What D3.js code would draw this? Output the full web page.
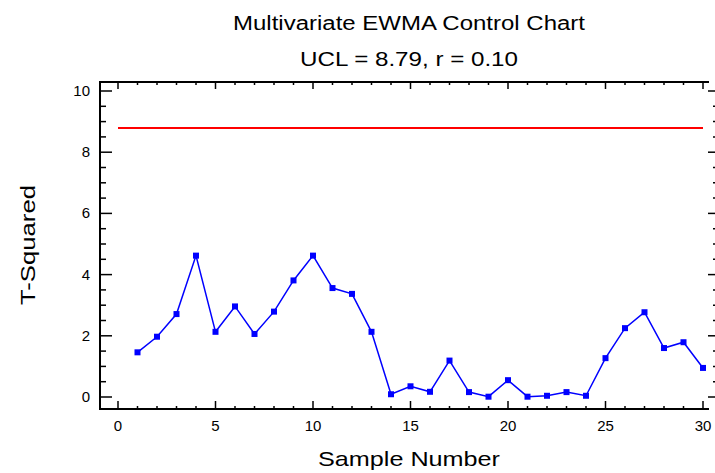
<!DOCTYPE html>
<html>
<head>
<meta charset="utf-8">
<script src="https://cdn.jsdelivr.net/npm/d3@7"></script>
<style>
  body { margin: 0; background: #fff; }
  svg { display: block; font-family: "Liberation Sans", Arial, sans-serif; }
</style>
</head>
<body>
<div id="chart"></div>
<script>
// chart data
var samples = d3.range(1, 31);
var tSquared = [1.46, 1.97, 2.71, 4.62, 2.13, 2.96, 2.06, 2.79, 3.81, 4.62,
                3.56, 3.37, 2.13, 0.09, 0.35, 0.17, 1.19, 0.16, 0.01, 0.55,
                0.01, 0.04, 0.16, 0.04, 1.27, 2.25, 2.77, 1.60, 1.79, 0.95];
var ucl = 8.79;
var xTicks = [0, 5, 10, 15, 20, 25, 30];
var yTicks = [0, 2, 4, 6, 8, 10];

var width = 715, height = 473;
var frame = {left: 100, right: 709, top: 82, bottom: 409};

var svg = d3.select('#chart').append('svg')
  .attr('width', width)
  .attr('height', height);

var x = d3.scaleLinear().domain([0, 30]).range([118, 703]);
var y = d3.scaleLinear().domain([0, 10]).range([397, 91]);

// frame lines (left, bottom, top)
svg.append('path')
  .attr('d', 'M' + frame.right + ',' + frame.top + 'H' + frame.left + 'V' + frame.bottom + 'H' + frame.right)
  .attr('fill', 'none')
  .attr('stroke', '#000')
  .attr('stroke-width', 2);

function tickLines(g, vals, fn) {
  g.selectAll('line').data(vals).enter().append('line')
    .each(fn)
    .attr('stroke', '#000')
    .attr('stroke-width', 1.5);
}

// bottom ticks
var minorX = d3.range(0, 31);
tickLines(svg.append('g'), minorX, function(d) {
  var len = d % 5 === 0 ? 8 : 3;
  d3.select(this).attr('x1', x(d)).attr('x2', x(d)).attr('y1', frame.bottom).attr('y2', frame.bottom - len);
});
// top ticks
tickLines(svg.append('g'), minorX, function(d) {
  var len = d % 5 === 0 ? 7 : 3;
  d3.select(this).attr('x1', x(d)).attr('x2', x(d)).attr('y1', frame.top).attr('y2', frame.top + len);
});
// left ticks
var minorY = d3.range(0, 10.01, 0.5);
tickLines(svg.append('g'), minorY, function(d) {
  var len = d % 2 === 0 ? 12 : 6;
  d3.select(this).attr('x1', frame.left).attr('x2', frame.left + len).attr('y1', y(d)).attr('y2', y(d));
});
// right ticks
tickLines(svg.append('g'), minorY, function(d) {
  var len = d % 2 === 0 ? 7 : 2;
  d3.select(this).attr('x1', 715 - len).attr('x2', 715).attr('y1', y(d)).attr('y2', y(d));
});

// tick labels
svg.append('g').selectAll('text').data(xTicks).enter().append('text')
  .attr('x', function(d) { return x(d); })
  .attr('y', 431)
  .attr('text-anchor', 'middle')
  .attr('font-size', 15)
  .text(function(d) { return d; });

svg.append('g').selectAll('text').data(yTicks).enter().append('text')
  .attr('x', 90)
  .attr('y', function(d) { return y(d) + 5; })
  .attr('text-anchor', 'end')
  .attr('font-size', 15)
  .text(function(d) { return d; });

// UCL line
svg.append('line')
  .attr('x1', x(0)).attr('x2', x(30))
  .attr('y1', y(ucl)).attr('y2', y(ucl))
  .attr('stroke', '#ff0000')
  .attr('stroke-width', 2);

// data line
var line = d3.line()
  .x(function(d, i) { return x(samples[i]); })
  .y(function(d) { return y(d); });

svg.append('path')
  .datum(tSquared)
  .attr('d', line)
  .attr('fill', 'none')
  .attr('stroke', '#0000ff')
  .attr('stroke-width', 1.5);

svg.append('g').selectAll('rect').data(tSquared).enter().append('rect')
  .attr('x', function(d, i) { return x(samples[i]) - 3; })
  .attr('y', function(d) { return y(d) - 3; })
  .attr('width', 6)
  .attr('height', 6)
  .attr('fill', '#0000ff');

// titles
svg.append('text')
  .attr('x', 409).attr('y', 30)
  .attr('text-anchor', 'middle')
  .attr('font-size', 20)
  .attr('textLength', 352)
  .attr('lengthAdjust', 'spacingAndGlyphs')
  .text('Multivariate EWMA Control Chart');

svg.append('text')
  .attr('x', 409).attr('y', 66)
  .attr('text-anchor', 'middle')
  .attr('font-size', 20)
  .attr('textLength', 218)
  .attr('lengthAdjust', 'spacingAndGlyphs')
  .text('UCL = 8.79, r = 0.10');

svg.append('text')
  .attr('x', 409).attr('y', 466)
  .attr('text-anchor', 'middle')
  .attr('font-size', 21)
  .attr('textLength', 182)
  .attr('lengthAdjust', 'spacingAndGlyphs')
  .text('Sample Number');

svg.append('text')
  .attr('transform', 'translate(35,245) rotate(-90)')
  .attr('text-anchor', 'middle')
  .attr('font-size', 21)
  .attr('textLength', 120)
  .attr('lengthAdjust', 'spacingAndGlyphs')
  .text('T-Squared');
</script>
</body>
</html>
